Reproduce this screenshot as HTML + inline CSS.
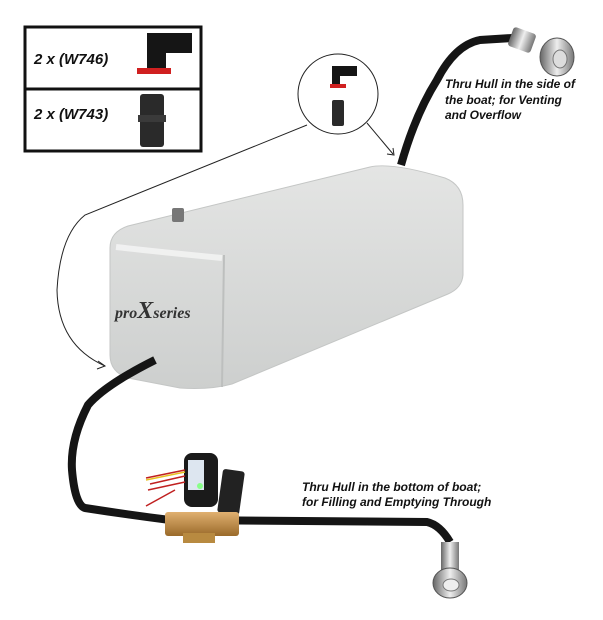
<!DOCTYPE html>
<html><head><style>
html,body{margin:0;padding:0;background:#fff;}
body{width:603px;height:620px;position:relative;overflow:hidden;font-family:"Liberation Sans",sans-serif;}
.t{position:absolute;font-weight:bold;font-style:italic;color:#111;white-space:nowrap;}
</style></head><body>
<svg width="603" height="620" style="position:absolute;left:0;top:0">
<defs>
<linearGradient id="tg" x1="0" y1="0" x2="0" y2="1"><stop offset="0" stop-color="#e4e5e4"/><stop offset="1" stop-color="#cdcfce"/></linearGradient>
<linearGradient id="br" x1="0" y1="0" x2="0" y2="1"><stop offset="0" stop-color="#e0b070"/><stop offset="1" stop-color="#9a6a2a"/></linearGradient>
<linearGradient id="ch" x1="0" y1="0" x2="1" y2="0"><stop offset="0" stop-color="#666"/><stop offset=".5" stop-color="#eee"/><stop offset="1" stop-color="#777"/></linearGradient>
</defs>
<!-- parts box -->
<rect x="25" y="27" width="176" height="124" fill="#fff" stroke="#111" stroke-width="3"/>
<line x1="25" y1="89" x2="201" y2="89" stroke="#111" stroke-width="3"/>
<path d="M147,33 h45 v20 h-26 v17 h-19z" fill="#151515"/>
<rect x="137" y="68" width="34" height="6" fill="#d02020"/>
<rect x="140" y="94" width="24" height="53" rx="3" fill="#2a2a2a"/>
<rect x="138" y="115" width="28" height="7" fill="#3a3a3a"/>
<!-- circle -->
<circle cx="338" cy="94" r="40" fill="#fff" stroke="#222" stroke-width="1"/>
<path d="M332,66 h25 v10 h-17 v8 h-8z" fill="#151515"/>
<rect x="330" y="84" width="16" height="4" fill="#d02020"/>
<rect x="332" y="100" width="12" height="26" rx="2" fill="#2a2a2a"/>
<!-- connectors -->
<path d="M307,125 L85,215 Q60,235 57,290 Q58,345 105,366" fill="none" stroke="#222" stroke-width="1"/>
<path d="M98,361 L105,366 L97,369" fill="none" stroke="#222" stroke-width="1"/>
<path d="M367,123 L393,154" fill="none" stroke="#222" stroke-width="1"/>
<path d="M387,154 L394,155 L393,148" fill="none" stroke="#222" stroke-width="1"/>
<!-- upper hose -->
<path d="M401,165 Q415,115 437,80 Q455,45 480,40 L512,38" fill="none" stroke="#151515" stroke-width="8"/>
<rect x="510" y="30" width="24" height="20" rx="3" fill="url(#ch)" transform="rotate(20 522 40)"/>
<ellipse cx="557" cy="57" rx="17" ry="19" fill="url(#ch)" stroke="#555"/>
<ellipse cx="560" cy="59" rx="7" ry="9" fill="#ddd" stroke="#777"/>
<!-- tank -->
<path d="M110,248 Q110,232 128,226 L370,167 Q392,162 445,178 Q463,185 463,205 L463,275 Q462,288 448,294 L232,384 Q210,390 180,388 L128,378 Q110,372 110,355 Z" fill="url(#tg)" stroke="#c4c6c5"/>
<path d="M224,255 L222,387" stroke="#bdbfbe" stroke-width="2"/>
<path d="M116,247 Q160,252 222,258" fill="none" stroke="#fafafa" stroke-width="6" opacity=".7"/>
<rect x="172" y="208" width="12" height="14" rx="2" fill="#777"/>
<text x="115" y="318" font-family="Liberation Serif,serif" font-size="16" font-style="italic" font-weight="bold" fill="#333">pro<tspan font-size="24">X</tspan>series</text>
<!-- lower hose -->
<path d="M155,360 Q105,385 88,405 Q70,440 72,470 Q75,505 85,508 Q130,515 170,520 L427,522 Q440,525 450,542" fill="none" stroke="#151515" stroke-width="8"/>
<!-- pump -->
<rect x="184" y="453" width="34" height="54" rx="8" fill="#1a1a1a"/>
<rect x="188" y="460" width="16" height="30" fill="#dde6f0"/>
<circle cx="200" cy="486" r="3" fill="#8f8"/>
<rect x="220" y="470" width="22" height="44" rx="3" fill="#222" transform="rotate(8 231 492)"/>
<rect x="165" y="512" width="74" height="24" rx="3" fill="url(#br)"/>
<rect x="183" y="533" width="32" height="10" fill="#b88a40"/>
<path d="M146,478 L185,470 M150,484 L185,476 M148,490 L185,482 M146,506 L175,490" stroke="#c02020" stroke-width="1.5"/>
<path d="M146,480 L185,472" stroke="#e8c020" stroke-width="1.5"/>
<!-- bottom thru-hull -->
<rect x="441" y="542" width="18" height="30" fill="url(#ch)"/>
<ellipse cx="450" cy="583" rx="17" ry="15" fill="url(#ch)" stroke="#555"/>
<ellipse cx="451" cy="585" rx="8" ry="6" fill="#eee" stroke="#777"/>
</svg>
<div class="t" style="left:34px;top:51px;font-size:15px">2 x (W746)</div>
<div class="t" style="left:34px;top:106px;font-size:15px">2 x (W743)</div>
<div class="t" style="left:445px;top:77px;font-size:12px;line-height:15.5px">Thru Hull in the side of<br>the boat; for Venting<br>and Overflow</div>
<div class="t" style="left:302px;top:480px;font-size:12px;line-height:15px">Thru Hull in the bottom of boat;<br>for Filling and Emptying Through</div>
</body></html>
